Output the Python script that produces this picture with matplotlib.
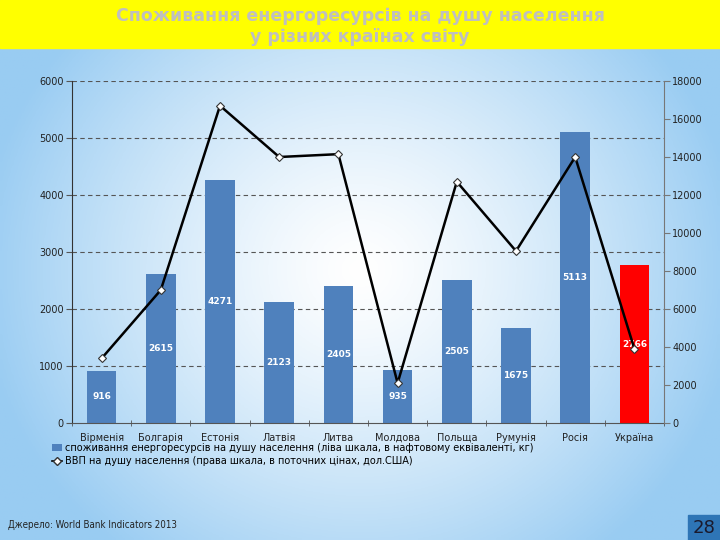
import numpy as np
import matplotlib
matplotlib.use("Agg")
import matplotlib.pyplot as plt
from matplotlib.lines import Line2D
from matplotlib.patches import Patch, Rectangle

countries = ["Вірменія", "Болгарія", "Естонія", "Латвія", "Литва",
             "Молдова", "Польща", "Румунія", "Росія", "Україна"]
energy = [916, 2615, 4271, 2123, 2405, 935, 2505, 1675, 5113, 2766]
gdp = [3400, 7000, 16700, 14000, 14150, 2100, 12700, 9050, 14000, 3900]
left_ticks = [0, 1000, 2000, 3000, 4000, 5000, 6000]
right_ticks = [0, 2000, 4000, 6000, 8000, 10000, 12000, 14000, 16000, 18000]

fig = plt.figure(figsize=(7.2, 5.4), dpi=100)

# background gradient
bg = fig.add_axes([0, 0, 1, 1], zorder=-10)
yy, xx = np.mgrid[0:1:200j, 0:1:200j]
r = np.sqrt(((xx - 0.5) / 0.8) ** 2 + ((yy - 0.5) / 1.0) ** 2)
t = np.clip(r * 1.5, 0, 1) ** 1.3
c_white = np.array([1.0, 1.0, 1.0])
c_blue = np.array([0.60, 0.80, 0.95])
img = c_white[None, None, :] * (1 - t[..., None]) + c_blue[None, None, :] * t[..., None]
bg.imshow(img, extent=[0, 1, 0, 1], aspect="auto", origin="lower")
bg.set_xlim(0, 1)
bg.set_ylim(0, 1)
bg.axis("off")

# yellow header
bg.add_patch(Rectangle((0, 1 - 48 / 540), 1, 48 / 540, color="#ffff00", zorder=2))
bg.text(0.5, 1 - 16 / 540, "Споживання енергоресурсів на душу населення",
        ha="center", va="center", fontsize=12.5, fontweight="bold", color="#bfbfbf", zorder=3)
bg.text(0.5, 1 - 37 / 540, "у різних країнах світу",
        ha="center", va="center", fontsize=12.5, fontweight="bold", color="#bfbfbf", zorder=3)

# page number box
bg.add_patch(Rectangle((688 / 720, 0), 32 / 720, 25 / 540, color="#2e75b6", zorder=2))
bg.text(704 / 720, 12 / 540, "28", ha="center", va="center", fontsize=13,
        color="#1a1a2e", zorder=3)
bg.text(8 / 720, 15 / 540, "Джерело: World Bank Indicators 2013", ha="left", va="center",
        fontsize=7, color="#222222", zorder=3, fontstretch="condensed")

ax = fig.add_axes([72 / 720, 1 - 423 / 540, 592 / 720, 342 / 540])
ax.patch.set_alpha(0)
x = np.arange(len(countries))
colors = ["#4f81bd"] * (len(countries) - 1) + ["#ff0000"]
bars = ax.bar(x, energy, width=0.5, color=colors, zorder=2)
for xi, v in zip(x, energy):
    ax.text(xi, v / 2, str(v), ha="center", va="center", color="white",
            fontsize=6.5, fontweight="bold", zorder=3)
ax.set_ylim(0, 6000)
ax.set_xlim(-0.5, len(countries) - 0.5)
ax.set_yticks(left_ticks)
ax.set_yticklabels([str(v) for v in left_ticks], fontsize=7, color="#222222")
for v in left_ticks[1:]:
    ax.axhline(v, color="#555555", lw=0.8, ls=(0, (4, 3)), zorder=1)
ax.set_xticks(x)
ax.set_xticklabels(countries, fontsize=7, color="#222222")
ax.tick_params(axis="x", length=0, pad=7)
ax.set_xticks(np.arange(-0.5, len(countries)), minor=True)
ax.tick_params(axis="x", which="minor", length=4, direction="inout", color="#555555")
ax.tick_params(axis="y", length=4, direction="out", color="#555555", pad=2)
for s in ["top", "right"]:
    ax.spines[s].set_visible(False)
ax.spines["left"].set_color("#333333")
ax.spines["bottom"].set_color("#555555")

ax2 = ax.twinx()
ax2.set_ylim(0, 18000)
ax2.set_yticks(right_ticks)
ax2.set_yticklabels([str(v) for v in right_ticks], fontsize=7, color="#222222")
ax2.tick_params(axis="y", length=4, direction="out", color="#777777", pad=2)
for s in ["top", "left", "bottom"]:
    ax2.spines[s].set_visible(False)
ax2.spines["right"].set_color("#777777")
ax2.plot(x, gdp, color="black", lw=1.8, marker="D", markersize=4,
         markerfacecolor="white", markeredgecolor="#333333", markeredgewidth=0.8, zorder=4)

handles = [Patch(facecolor="#4f81bd"),
           Line2D([0], [0], color="black", lw=1.2, marker="D", markersize=4,
                  markerfacecolor="white", markeredgecolor="#333333")]
labels = ["споживання енергоресурсів на душу населення (ліва шкала, в нафтовому еквіваленті, кг)",
          "ВВП на душу населення (права шкала, в поточних цінах, дол.США)"]
fig.legend(handles, labels, loc="upper left", bbox_to_anchor=(52 / 720, 1 - 443 / 540),
           frameon=False, fontsize=7, handlelength=1.0, handletextpad=0.3,
           labelspacing=0.35, borderaxespad=0, borderpad=0)

fig.savefig("out.png", dpi=100)
